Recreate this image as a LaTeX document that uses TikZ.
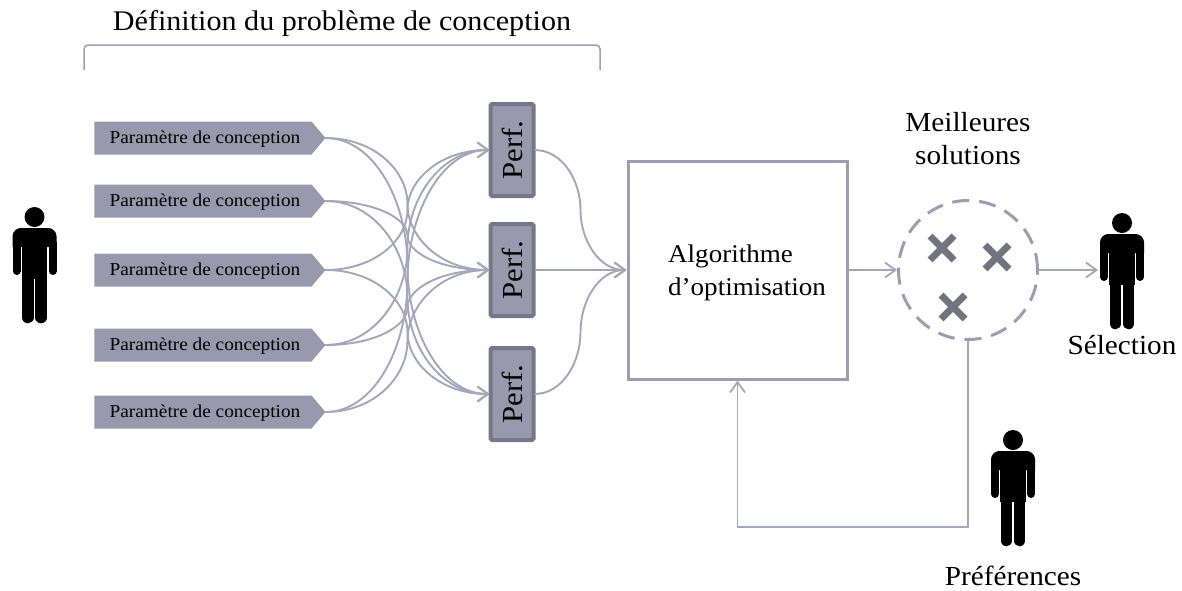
\documentclass[tikz,border=0pt]{standalone}
\usepackage{fontspec}
\setmainfont[FakeStretch=1.06]{Liberation Serif}
\usetikzlibrary{arrows.meta,shapes.symbols,calc}
\definecolor{boxfill}{HTML}{9999AE}
\definecolor{boxedge}{HTML}{77778A}
\definecolor{linecol}{HTML}{A6A6BA}
\definecolor{framecol}{HTML}{9C9CB2}
\definecolor{crosscol}{HTML}{73737F}
\tikzset{
  x=1pt,y=-1pt,
  paramnode/.style={signal,signal to=east,signal pointer angle=100,fill=boxfill,draw=none,
    minimum width=231pt,minimum height=33pt,inner sep=0pt,outer sep=0pt,text=black,
    font=\fontsize{18.2}{20}\selectfont},
  perfnode/.style={rectangle,rounded corners=1.5pt,fill=boxfill,draw=boxedge,line width=4pt,minimum width=43pt,minimum height=92pt,
    inner sep=0pt,outer sep=1pt,font=\fontsize{29}{30}\selectfont},
  biglabel/.style={font=\fontsize{27.6}{33}\selectfont,align=center,inner sep=0pt},
  barb/.style={-{Straight Barb[length=10.5pt,width=15pt,line width=1.8pt]}},
  conn/.style={draw=linecol,line width=1.9pt},
  scurve/.style={to path={let \p1=(\tikztostart),\p2=(\tikztotarget),\n1={(\x1+\x2)/2},\n2={(\y1+\y2)/2} in
    .. controls ({\x1+0.6*(\n1-\x1)},\y1) and (\n1,{\n2-0.5*(\n2-\y1)}) .. (\n1,\n2)
    .. controls (\n1,{\n2+0.5*(\y2-\n2)}) and ({\n1+0.4*(\x2-\n1)},\y2) .. (\p2)}},
  person/.pic={
    \fill[black] (0,10) circle[radius=10];
    \fill[black] (-22,40) -- (-22,29) .. controls (-22,24.6) and (-17.6,21) .. (-14,21) -- (14,21) .. controls (17.6,21) and (22,24.6) .. (22,29) -- (22,40) -- cycle;
    \fill[black] (-12.8,30) rectangle (12.8,72);
    \draw[black,line width=8pt,line cap=round] (-18,36)--(-18,64);
    \draw[black,line width=8pt,line cap=round] (18,36)--(18,64);
    \draw[black,line width=11.6pt,line cap=round] (-6.6,66)--(-6.6,110.5);
    \draw[black,line width=11.6pt,line cap=round] (6.6,66)--(6.6,110.5);
  },
  crossmark/.pic={
    \draw[crosscol,line width=7pt] (-12,-12)--(12,12);
    \draw[crosscol,line width=7pt] (-12,12)--(12,-12);
  }
}
\begin{document}
\begin{tikzpicture}
\useasboundingbox (0,0) rectangle (1182,590);
\node[biglabel,font=\fontsize{28.4}{33}\selectfont] (title) at (342,24) {Définition du problème de conception};
\coordinate (bl) at (84,70);
\coordinate (br) at (600,70);
\draw[draw=framecol,line width=1.5pt,rounded corners=4pt] (bl) -- (84,45) -- (600,45) -- (br);
\foreach \n/\y in {p1/138,p2/201,p3/270,p4/345,p5/412}
  \node[paramnode] (\n) at (203,\y) {\hspace*{4pt}\raisebox{-5.5pt}[0pt][0pt]{Paramètre de conception}};
\foreach \n/\y in {f1/150,f2/270,f3/394}
  \node[perfnode] (\n) at (512,\y) {\rotatebox{90}{Perf.}};
\node[rectangle,draw=framecol,line width=3pt,minimum width=219pt,minimum height=218pt,inner sep=0pt,outer sep=1.5pt] (algo) at (737.5,270) {};
\node[biglabel,align=left,font=\fontsize{25.5}{33}\selectfont,anchor=west] (algotext) at (668,272.5) {Algorithme\\d’optimisation};
\node[circle,draw=framecol,line width=3pt,dash pattern=on 17pt off 10pt,minimum size=139pt,inner sep=0pt,outer sep=1.5pt] (circ) at (968,270) {};
\node[biglabel] (best) at (968,139) {Meilleures\\solutions};
\node[biglabel] (sel) at (1122,345) {Sélection};
\node[biglabel] (pref) at (1013,576) {Préférences};
\foreach \s/\t in {p1/f2,p1/f3,p2/f2,p2/f3,p3/f1,p3/f3,p4/f1,p4/f2,p5/f1,p5/f2}
  \draw[conn,barb] (\s.east) to[scurve] (\t.west);
\foreach \s in {f1,f2,f3}
  \draw[conn,barb] (\s.east) to[scurve] (algo.west);
\coordinate (target) at (1098,270);
\draw[conn,barb] (algo.east) -- (circ.west);
\draw[conn,barb] (circ.east) -- (target);
\draw[conn,barb] (circ.south) -- ++(0,186) -| (algo.south);
\path (942,248) pic {crossmark} (997,257) pic {crossmark} (953,307) pic {crossmark};
\path (34.5,207) pic {person} (1122,213) pic {person} (1013,430) pic {person};
\end{tikzpicture}
\end{document}
